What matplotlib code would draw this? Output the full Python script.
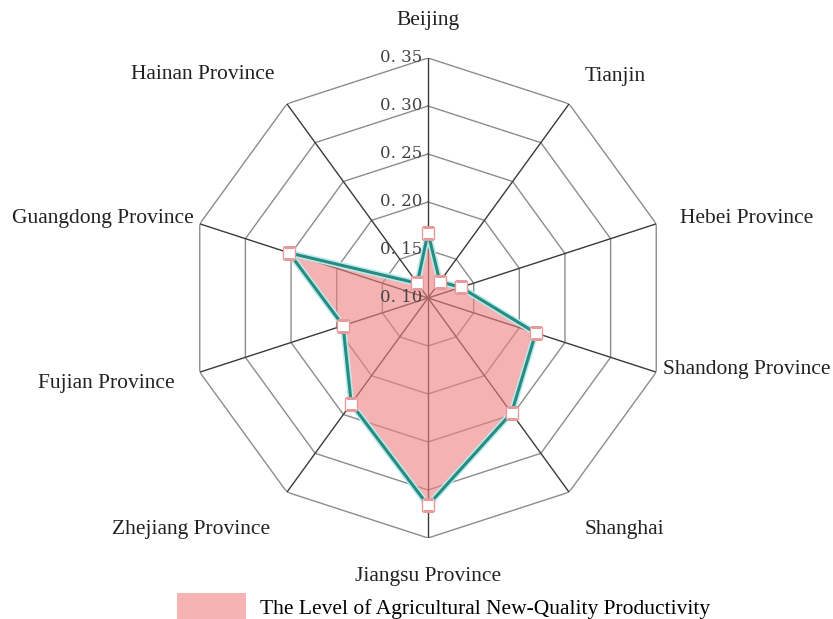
import numpy as np
import matplotlib
matplotlib.use("Agg")
import matplotlib.pyplot as plt
from matplotlib.patches import Patch

plt.rcParams['font.family'] = ['Liberation Serif', 'DejaVu Serif']

provinces = ["Beijing", "Tianjin", "Hebei Province", "Shandong Province", "Shanghai",
             "Jiangsu Province", "Zhejiang Province", "Fujian Province",
             "Guangdong Province", "Hainan Province"]
values = [0.168, 0.121, 0.136, 0.218, 0.248, 0.316, 0.236, 0.193, 0.252, 0.119]
levels = [0.10, 0.15, 0.20, 0.25, 0.30, 0.35]
level_labels = ["0. 10", "0. 15", "0. 20", "0. 25", "0. 30", "0. 35"]
series_name = "The Level of Agricultural New-Quality Productivity"

# label offsets (points) and alignment for each axis name
label_pos = [((0, 20), "center", "bottom"), ((11, 13), "left", "bottom"),
             ((17, 4), "left", "center"), ((5, 2), "left", "center"),
             ((11, -20), "left", "top"), ((0, -21), "center", "top"),
             ((-12, -20), "right", "top"), ((-18, -8), "right", "center"),
             ((-4, 4), "right", "center"), ((-9, 14), "right", "bottom")]

n = len(provinces)
angles = np.linspace(0, 2 * np.pi, n, endpoint=False)
closed_a = np.append(angles, angles[0])

fig = plt.figure(figsize=(8.33, 6.19), dpi=100)
ax = fig.add_axes([188 / 833, 81 / 619, 480 / 833, 480 / 619], projection="polar")
ax.set_theta_offset(np.pi / 2)
ax.set_theta_direction(-1)
ax.set_ylim(levels[0], levels[-1])
ax.axis("off")

# decagon grid
for lv in levels[1:]:
    ax.plot(closed_a, [lv] * (n + 1), color="#8c8c8c", lw=1.0, zorder=1)
for a in angles:
    ax.plot([a, a], [levels[0], levels[-1]], color="#3a3a3a", lw=1.0, zorder=1)

# radial labels along first axis
for lv, lab in zip(levels, level_labels):
    ax.annotate(lab, xy=(0, lv), xytext=(-4, 0), textcoords="offset points",
                ha="right", va="center", fontsize=12, color="#444444",
                family=['DejaVu Serif'], annotation_clip=False)

# series
vals = np.append(values, values[0])
ax.fill(closed_a, vals, color="#ee8080", alpha=0.6, lw=0, zorder=2)
ax.plot(closed_a, vals, color="#b8ecec", lw=4.5, zorder=3)
ax.plot(closed_a, vals, color="#2a8a80", lw=2.2, zorder=4)
ax.plot(angles, values, ls="none", marker="s", ms=8, mfc="white",
        mec="#e89a9a", mew=1.0, zorder=5)

for a, name, (off, ha, va) in zip(angles, provinces, label_pos):
    ax.annotate(name, xy=(a, levels[-1]), xytext=off, textcoords="offset points",
                ha=ha, va=va, fontsize=15.5, color="#222222", annotation_clip=False)

fig.legend(handles=[Patch(facecolor="#f5b3b3", edgecolor="none")], labels=[series_name],
           loc="center", bbox_to_anchor=(0.532, 0.02), frameon=False,
           fontsize=15.5, handlelength=3.2, handleheight=1.5, handletextpad=0.65)

fig.savefig("out.png", dpi=100)
